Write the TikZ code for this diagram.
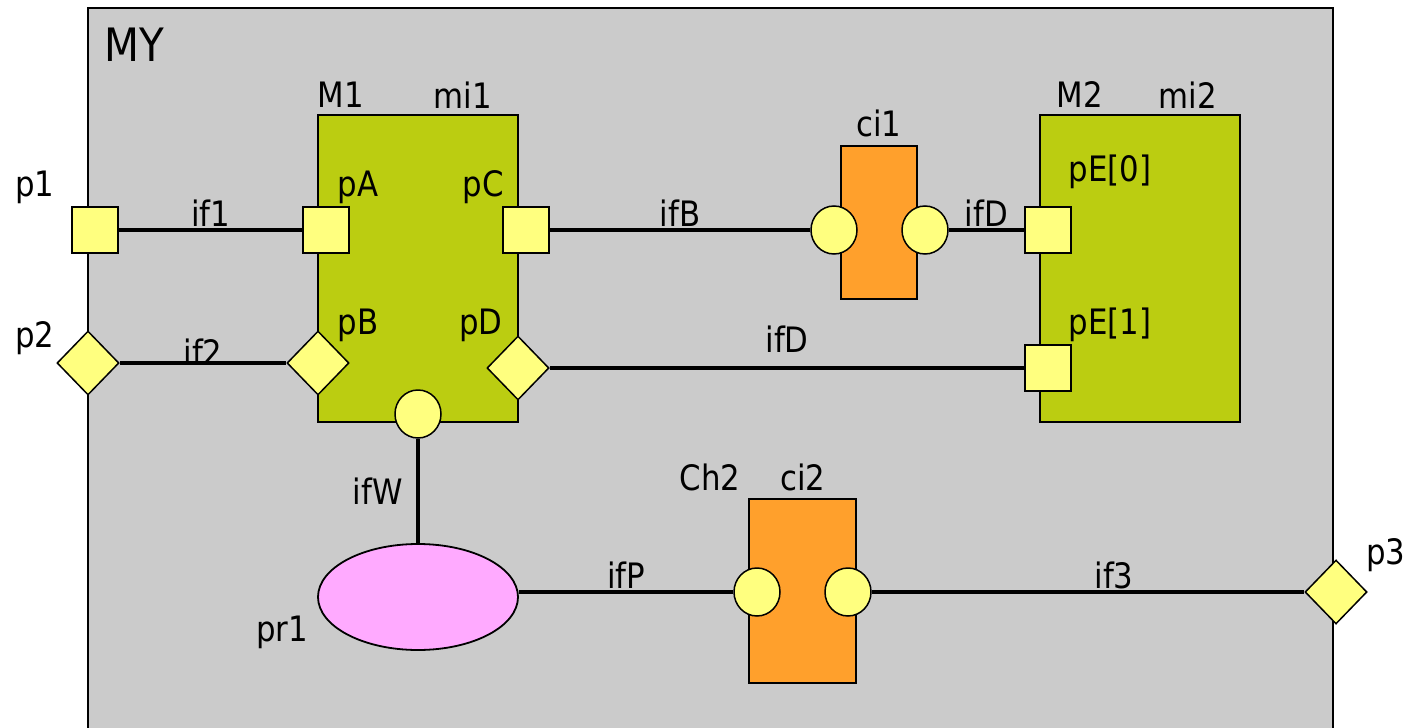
\documentclass[tikz,border=0pt]{standalone}
\usepackage{fontspec}
\setmainfont{DejaVu Sans}[FakeStretch=0.88]
\usetikzlibrary{shapes.geometric, positioning}
\definecolor{cFrame} {HTML}{CBCBCB}
\definecolor{cModule}{HTML}{BBCD11}
\definecolor{cChan}  {HTML}{FFA02C}
\definecolor{cPort}  {HTML}{FFFF7F}
\definecolor{cProc}  {HTML}{FFAAFF}

\begin{document}
\begin{tikzpicture}[x=1pt, y=-1pt,
    lbl/.style={font=\fontsize{35}{35}\selectfont, inner sep=1.5pt},
    module/.style={draw, line width=1.8pt, fill=cModule, minimum width=200pt, minimum height=307pt, inner sep=0pt},
    chan/.style={draw, line width=1.8pt, fill=cChan, inner sep=0pt},
    sqport/.style={draw, line width=1.5pt, fill=cPort, minimum size=46pt, inner sep=0pt},
    dmport/.style={diamond, draw, line width=1.5pt, fill=cPort, minimum width=62pt, minimum height=64pt, inner sep=0pt},
    ciport/.style={ellipse, draw, line width=1.5pt, fill=cPort, minimum width=46pt, minimum height=48pt, inner sep=0pt},
    wire/.style={line width=4pt},
  ]
  \useasboundingbox (0,0) rectangle (1414,728);

  % enclosing module MY
  \fill[cFrame] (88,8) rectangle (1333,740);
  \draw[line width=1.8pt] (88,740) -- (88,8) -- (1333,8) -- (1333,740);
  \node[lbl, font=\fontsize{46}{46}\selectfont, anchor=west] (my) at (103,45) {MY};

  % blocks
  \node[module] (mi1) at (418,268.5) {};
  \node[module] (mi2) at (1140,268.5) {};
  \node[chan, minimum width=76pt, minimum height=153pt] (ci1) at (879,222.5) {};
  \node[chan, minimum width=107pt, minimum height=184pt] (ci2) at (802.5,591) {};
  \node[ellipse, draw, line width=1.8pt, fill=cProc, minimum width=200pt, minimum height=106pt] (pr1) at (418,597) {};

  % ports
  \node[sqport] (p1) at (95,230) {};
  \node[sqport] (pA) at (326,230) {};
  \node[sqport] (pC) at (526,230) {};
  \node[sqport] (pE0) at (1048,230) {};
  \node[sqport] (pE1) at (1048,368) {};
  \node[dmport] (p2) at (88,363) {};
  \node[dmport] (pB) at (318,363) {};
  \node[dmport] (pD) at (518,368) {};
  \node[dmport] (p3) at (1336,592) {};
  \node[ciport] (pW) at (418,414) {};
  \node[ciport] (ci1a) at (834,230) {};
  \node[ciport] (ci1b) at (925,230) {};
  \node[ciport] (ci2a) at (757,592) {};
  \node[ciport] (ci2b) at (848,592) {};

  % names
  \node[lbl] (M1-l) at (341,95) {M1};
  \node[lbl] (mi1-l) at (463,95) {mi1};
  \node[lbl] (M2-l) at (1080,95) {M2};
  \node[lbl] (mi2-l) at (1188,95) {mi2};
  \node[lbl] (ci1-l) at (879,123) {ci1};
  \node[lbl] (Ch2-l) at (710,477) {Ch2};
  \node[lbl] (ci2-l) at (803,477) {ci2};
  \node[lbl] (pr1-l) at (282,632) {pr1};
  \node[lbl] (p1-l) at (35,187) {p1};
  \node[lbl] (p2-l) at (35,338) {p2};
  \node[lbl] (p3-l) at (1386,555) {p3};
  \node[lbl] (pA-l) at (358,187) {pA};
  \node[lbl] (pC-l) at (483,187) {pC};
  \node[lbl] (pB-l) at (358,325) {pB};
  \node[lbl] (pD-l) at (481,325) {pD};
  \node[lbl] (pE0-l) at (1110,172) {pE[0]};
  \node[lbl] (pE1-l) at (1110,325) {pE[1]};

  % interfaces
  \draw[wire] (p1) -- node[lbl, above] (if1) {if1} (pA);
  \draw[wire] (p2) -- node[lbl, above=-6pt] (if2) {if2} (pB);
  \draw[wire] (pC) -- node[lbl, above] (ifB) {ifB} (ci1a);
  \draw[wire] (ci1b) -- node[lbl, above] (ifD-a) {ifD} (pE0);
  \draw[wire] (pD) -- node[lbl, above=12pt] (ifD-b) {ifD} (pE1);
  \draw[wire, line width=3.5pt] (pW) -- node[lbl, left=12pt] (ifW) {ifW} (pr1);
  \draw[wire] (pr1.east |- ci2a) -- node[lbl, above] (ifP) {ifP} (ci2a);
  \draw[wire] (ci2b) -- node[lbl, above, pos=0.56] (if3) {if3} (p3);
\end{tikzpicture}
\end{document}
